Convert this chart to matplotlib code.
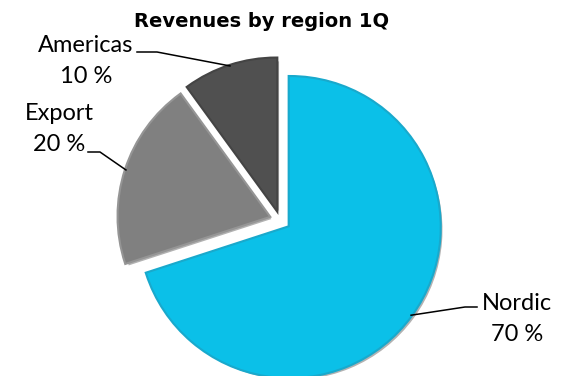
import matplotlib
matplotlib.use("Agg")
import matplotlib.pyplot as plt
import matplotlib.patheffects as pe
import numpy as np

regions = ["Nordic", "Export", "Americas"]
shares = [70, 20, 10]
colors = ["#0BC0E8", "#808080", "#505050"]
rims = ["#19A9CC", "#959595", "#444444"]

# label placement in pixels (x, baseline of first line), and leader elbow
label_pos = {"Nordic": (517, 310), "Export": (59, 120), "Americas": (86, 52)}
elbows = {"Nordic": [(477, 307), (465, 307)],
          "Export": [(88, 152), (100, 152)],
          "Americas": [(137, 52), (157, 52)]}

W, H = 564, 376
cx, cy, R = 280, 220, 150  # pie centre / radius in pixels


def px(x, y):
    # pixel (from top-left) -> data units where radius == 1
    return (x - cx) / R, (cy - y) / R


fig = plt.figure(figsize=(W / 100, H / 100), dpi=100)
ax = fig.add_axes([0, 0, 1, 1])

wedges, _ = ax.pie(shares, colors=colors, startangle=90, counterclock=False,
                   explode=[0.08] * 3, radius=1,
                   wedgeprops=dict(linewidth=0))

for w, rim in zip(wedges, rims):
    w.set_path_effects([
        pe.SimplePatchShadow(offset=(2, -2), shadow_rgbFace="#000000", alpha=0.3),
        pe.Stroke(linewidth=3, foreground=rim),
        pe.Normal(),
    ])

ax.set_xlim(-cx / R, (W - cx) / R)
ax.set_ylim((cy - H) / R, cy / R)
ax.set_aspect("equal")
ax.axis("off")

for w, name, val in zip(wedges, regions, shares):
    # leader from the middle of the arc to the label
    mid = np.deg2rad((w.theta1 + w.theta2) / 2)
    tip = (w.center[0] + w.r * np.cos(mid), w.center[1] + w.r * np.sin(mid))
    pts = [px(*p) for p in elbows[name]] + [tip]
    ax.plot([p[0] for p in pts], [p[1] for p in pts], color="black", lw=1.1)

    lx, ly = label_pos[name]
    ax.text(*px(lx, ly), name, ha="center", va="baseline",
            fontsize=17, family="Lato", color="black")
    ax.text(*px(lx, ly + 31), f"{val} %", ha="center", va="baseline",
            fontsize=17, family="Lato", color="black")

fig.text(262 / W, 1 - 27 / H, "Revenues by region 1Q", ha="center", va="baseline",
         fontsize=14, fontweight="bold", family="DejaVu Sans")

fig.savefig("out.png", dpi=100)
